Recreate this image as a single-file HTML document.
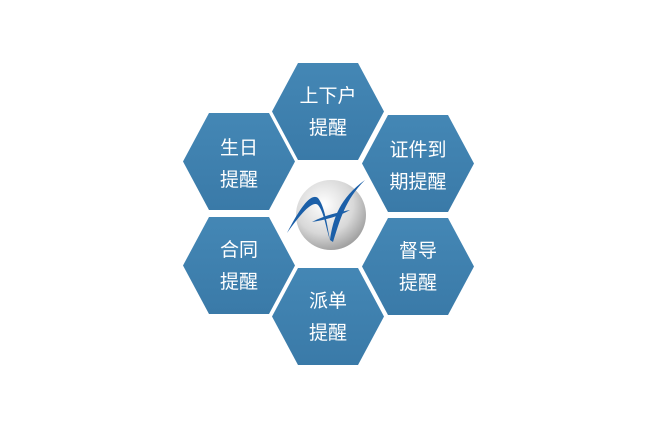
<!DOCTYPE html>
<html><head><meta charset="utf-8"><style>
html,body{margin:0;padding:0;background:#fff;}
svg text{font-family:"Liberation Sans","Noto Sans CJK SC",sans-serif;font-size:19px;fill:#fff;text-anchor:middle;}
</style></head><body>
<svg width="651" height="430" viewBox="0 0 651 430" xmlns="http://www.w3.org/2000/svg">
<defs>
<linearGradient id="hx" x1="0" y1="0" x2="0" y2="1"><stop offset="0" stop-color="#4487b5"/><stop offset="1" stop-color="#3a7aa8"/></linearGradient>
<radialGradient id="sp" cx="0.4" cy="0.35" r="0.7"><stop offset="0" stop-color="#ffffff"/><stop offset="0.6" stop-color="#d8d8d8"/><stop offset="1" stop-color="#9a9a9a"/></radialGradient>
<polygon id="h" points="26,0 86,0 112,48.5 86,97 26,97 0,48.5"/>
</defs>
<use href="#h" x="272" y="63" fill="url(#hx)"/>
<use href="#h" x="183" y="113" fill="url(#hx)"/>
<use href="#h" x="362" y="115" fill="url(#hx)"/>
<use href="#h" x="183" y="217" fill="url(#hx)"/>
<use href="#h" x="362" y="218" fill="url(#hx)"/>
<use href="#h" x="272" y="268" fill="url(#hx)"/>
<text x="328" y="102">上下户</text><text x="328" y="134">提醒</text>
<text x="239" y="154">生日</text><text x="239" y="186">提醒</text>
<text x="418" y="156">证件到</text><text x="418" y="188">期提醒</text>
<text x="239" y="256">合同</text><text x="239" y="288">提醒</text>
<text x="418" y="257">督导</text><text x="418" y="289">提醒</text>
<text x="328" y="307">派单</text><text x="328" y="339">提醒</text>
<circle cx="331" cy="215" r="35" fill="url(#sp)"/>
<path d="M287,233 C300,215 312,200 318,205 C324,212 326,228 330,240 C327,225 325,207 318,198 C310,192 298,212 287,233 Z" fill="#1b5fa8"/>
<path d="M330,240 C333,218 340,198 365,180 C345,200 340,220 333,242 Z" fill="#1b5fa8"/>
<path d="M312,222 C325,215 340,212 350,210 C340,216 325,220 312,222 Z" fill="#1b5fa8"/>
</svg>
</body></html>
